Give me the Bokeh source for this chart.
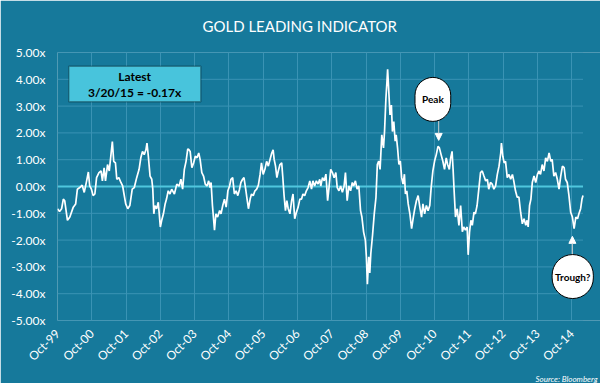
import numpy as np
from bokeh.plotting import figure
from bokeh.models import (Range1d, FixedTicker, PrintfTickFormatter,
                          BoxAnnotation, Label, Arrow, NormalHead, Title)
from bokeh.embed import file_html
from bokeh.resources import INLINE

# ---------------- data (decimal year, indicator value) ----------------
seg_1999_2003 = [
    (1999.75, -0.83), (1999.81, -0.93), (1999.87, -0.83), (1999.92, -0.47), (1999.96, -0.53),
    (2000.04, -1.26), (2000.11, -1.14), (2000.21, -0.77), (2000.28, -0.65), (2000.33, -0.10),
    (2000.40, -0.04), (2000.47, 0.05), (2000.53, -0.22), (2000.60, 0.21), (2000.65, 0.54),
    (2000.69, 0.02), (2000.74, -0.10), (2000.79, -0.34), (2000.84, -0.28), (2000.89, 0.33),
    (2000.96, 0.52), (2001.02, 0.58), (2001.06, 0.21), (2001.11, 0.70), (2001.15, 0.21),
    (2001.21, 0.82), (2001.26, 0.58), (2001.31, 1.19), (2001.35, 1.68), (2001.39, 0.94),
    (2001.44, 0.88), (2001.48, 0.27), (2001.54, 0.33), (2001.60, 0.15), (2001.65, 0.02),
    (2001.69, -0.28), (2001.74, -0.65), (2001.80, -0.83), (2001.86, -0.71), (2001.93, -0.10),
    (2001.99, -0.04), (2002.06, 0.33), (2002.13, 0.64), (2002.18, 1.07), (2002.23, 1.31),
    (2002.28, 1.19), (2002.33, 1.37), (2002.36, 1.62), (2002.40, 1.13), (2002.45, 0.39),
    (2002.50, 0.27), (2002.53, -0.10), (2002.56, -1.02), (2002.59, -0.71), (2002.64, -0.83),
    (2002.69, -0.59), (2002.75, -1.51), (2002.79, -1.26), (2002.84, -1.02), (2002.89, -0.65),
    (2002.93, -0.47), (2002.98, -0.16), (2003.03, -0.28), (2003.08, -0.10), (2003.16, -0.28),
    (2003.23, 0.09), (2003.30, 0.02), (2003.35, 0.27), (2003.40, -0.10), (2003.45, 0.64),
    (2003.50, 0.94), (2003.55, 1.40),
]
seg_2003_2007 = [
    (2003.58, 1.38), (2003.62, 1.31), (2003.67, 0.70), (2003.72, 0.88), (2003.77, 1.13),
    (2003.82, 1.07), (2003.87, 1.25), (2003.91, 1.01), (2003.96, 0.52), (2004.01, 0.39),
    (2004.06, 0.09), (2004.11, 0.02), (2004.16, 0.21), (2004.20, -0.04), (2004.23, 0.15),
    (2004.27, -0.71), (2004.33, -1.63), (2004.37, -1.02), (2004.42, -1.14), (2004.48, -0.90),
    (2004.52, -1.02), (2004.57, -0.71), (2004.62, -0.47), (2004.67, -0.77), (2004.72, -0.16),
    (2004.77, 0.02), (2004.81, 0.27), (2004.86, 0.33), (2004.91, -0.28), (2004.96, -0.16),
    (2005.01, -0.34), (2005.06, -0.10), (2005.10, 0.15), (2005.15, 0.27), (2005.19, 0.33),
    (2005.24, -0.10), (2005.28, -0.47), (2005.32, -0.83), (2005.37, -0.47), (2005.41, -0.28),
    (2005.46, -0.34), (2005.51, -0.16), (2005.56, -0.10), (2005.61, 0.05), (2005.66, 0.45),
    (2005.70, 0.88), (2005.75, 0.45), (2005.80, 0.64), (2005.85, 0.94), (2005.90, 0.76),
    (2005.95, 1.01), (2006.00, 1.25), (2006.04, 1.37), (2006.07, 1.01), (2006.11, 0.76),
    (2006.15, 0.33), (2006.19, 0.58), (2006.24, 0.82), (2006.29, 0.88), (2006.32, 0.39),
    (2006.36, -0.34), (2006.40, -0.90), (2006.44, -0.53), (2006.48, -0.83), (2006.53, -1.02),
    (2006.58, -0.53), (2006.62, -0.28), (2006.67, -1.20), (2006.72, -0.96), (2006.77, -0.77),
    (2006.82, -0.47), (2006.87, -0.47), (2006.91, -0.28), (2006.96, -0.34), (2007.01, -0.16),
    (2007.06, -0.04), (2007.11, 0.21), (2007.16, -0.10), (2007.20, 0.21), (2007.25, 0.02),
    (2007.30, 0.21), (2007.35, 0.09), (2007.40, 0.27),
]
seg_2007_2011 = [
    (2007.43, 0.02), (2007.48, 0.33), (2007.53, 0.21), (2007.58, 0.46), (2007.63, -0.53),
    (2007.67, -0.04), (2007.72, 0.64), (2007.77, 0.52), (2007.82, 0.33), (2007.87, 0.52),
    (2007.91, -0.04), (2007.96, -0.16), (2008.01, 0.02), (2008.06, -0.22), (2008.11, 0.02),
    (2008.15, 0.52), (2008.20, -0.53), (2008.25, 0.02), (2008.30, -0.16), (2008.35, 0.15),
    (2008.39, 0.02), (2008.44, 0.21), (2008.49, -0.10), (2008.54, 0.02), (2008.59, -0.90),
    (2008.63, -1.14), (2008.68, -1.70), (2008.73, -2.00), (2008.76, -2.62), (2008.79, -3.65),
    (2008.83, -2.62), (2008.86, -3.23), (2008.89, -2.50), (2008.94, -1.82), (2008.99, -1.02),
    (2009.04, -0.41), (2009.08, 0.82), (2009.12, 0.95), (2009.16, 0.64), (2009.21, 1.93),
    (2009.26, 1.44), (2009.29, 2.05), (2009.33, 3.28), (2009.36, 3.90), (2009.38, 4.37),
    (2009.41, 3.65), (2009.45, 2.67), (2009.49, 3.04), (2009.52, 2.05), (2009.56, 2.42),
    (2009.60, 1.69), (2009.63, 1.93), (2009.67, 1.44), (2009.71, 0.82), (2009.75, 0.95),
    (2009.79, 0.33), (2009.83, 0.09), (2009.87, 0.46), (2009.90, -0.28), (2009.94, -0.16),
    (2009.98, -0.65), (2010.03, -1.02), (2010.08, -1.57), (2010.13, -1.14), (2010.17, -0.84),
    (2010.22, -0.53), (2010.27, -0.34), (2010.32, -0.77), (2010.37, -1.14), (2010.41, -0.65),
    (2010.46, -1.02), (2010.51, -0.71), (2010.56, -0.90), (2010.61, -0.71), (2010.65, -0.04),
    (2010.70, 0.58), (2010.75, 0.95), (2010.80, 1.19), (2010.85, 1.50), (2010.89, 1.44),
    (2010.94, 1.19), (2010.99, 0.95), (2011.04, 0.64), (2011.09, 1.07), (2011.13, 0.82),
    (2011.18, 0.64),
]
seg_2011_2015 = [
    (2011.22, 1.07), (2011.26, 1.31), (2011.29, 0.64), (2011.32, -0.16), (2011.36, -1.14),
    (2011.41, -0.83), (2011.46, -1.45), (2011.51, -0.71), (2011.56, -1.69), (2011.60, -1.51),
    (2011.65, -1.63), (2011.70, -1.51), (2011.73, -2.55), (2011.77, -1.69), (2011.81, -1.26),
    (2011.85, -1.45), (2011.90, -0.96), (2011.94, -1.02), (2011.99, -0.71), (2012.04, -0.10),
    (2012.09, 0.52), (2012.14, 0.58), (2012.19, 0.39), (2012.24, 0.21), (2012.29, 0.27),
    (2012.33, -0.10), (2012.38, 0.15), (2012.43, 0.09), (2012.48, -0.10), (2012.53, 0.02),
    (2012.58, 0.45), (2012.63, 0.76), (2012.68, 1.25), (2012.70, 1.62), (2012.74, 1.13),
    (2012.78, 0.88), (2012.82, 0.94), (2012.87, 0.33), (2012.92, 0.45), (2012.97, 0.27),
    (2013.02, 0.45), (2013.06, 0.21), (2013.11, -0.16), (2013.16, -0.40), (2013.21, -0.40),
    (2013.26, -0.96), (2013.31, -1.39), (2013.36, -1.20), (2013.41, -1.45), (2013.45, -1.26),
    (2013.48, -1.51), (2013.52, -0.71), (2013.56, -0.47), (2013.60, 0.15), (2013.65, 0.39),
    (2013.70, 0.15), (2013.75, 0.45), (2013.80, 0.58), (2013.84, 0.45), (2013.89, 0.82),
    (2013.94, 0.58), (2013.99, 1.07), (2014.04, 0.94), (2014.09, 1.25), (2014.14, 0.94),
    (2014.18, 1.01), (2014.23, 0.39), (2014.28, 0.52), (2014.33, 0.27), (2014.38, -0.10),
    (2014.43, 0.39), (2014.48, 0.76), (2014.53, 0.70), (2014.57, 0.27), (2014.62, 0.15),
    (2014.67, -0.34), (2014.72, -0.96), (2014.77, -1.14), (2014.82, -1.57), (2014.87, -1.14),
    (2014.92, -1.20), (2014.96, -1.02), (2015.01, -0.83), (2015.05, -0.47), (2015.08, -0.34),
]

y_ticks = [-5, -4, -3, -2, -1, 0, 1, 2, 3, 4, 5]
x_ticks = [1999.75, 2000.75, 2001.75, 2002.75, 2003.75, 2004.75, 2005.75, 2006.75,
           2007.75, 2008.75, 2009.75, 2010.75, 2011.75, 2012.75, 2013.75, 2014.75]
x_tick_labels = ["Oct-99", "Oct-00", "Oct-01", "Oct-02", "Oct-03", "Oct-04", "Oct-05",
                 "Oct-06", "Oct-07", "Oct-08", "Oct-09", "Oct-10", "Oct-11", "Oct-12",
                 "Oct-13", "Oct-14"]

title_text = "GOLD LEADING INDICATOR"
latest_title = "Latest"
latest_text = "3/20/15 = -0.17x"
source_text = "Source: Bloomberg"

# ---------------- styling ----------------
BG = "#16799b"
GRID = "#3a93b4"
ZERO = "#4fc7de"
BOX = "#48c4dc"
FONT = "Lato"

points = seg_1999_2003 + seg_2003_2007 + seg_2007_2011 + seg_2011_2015
t = [a for a, b in points]
v = [b for a, b in points]
t_start, t_end = t[0], t[-1]

p = figure(width=600, height=383, output_backend="svg", toolbar_location=None, tools="",
           x_range=Range1d(1999.75, 2015.59), y_range=Range1d(-5, 5),
           min_border_left=57, min_border_right=0, min_border_top=52, min_border_bottom=60,
           background_fill_color=BG, border_fill_color=BG, outline_line_color=None)

p.title.text = title_text
p.title.align = "left"
p.title.vertical_align = "top"
p.title.offset = 145
p.title.standoff = 32
p.title.text_color = "white"
p.title.text_font = FONT
p.title.text_font_size = "15px"
p.title.text_font_style = "normal"

p.yaxis.ticker = FixedTicker(ticks=y_ticks)
p.yaxis.formatter = PrintfTickFormatter(format="%.2fx")
p.xaxis.ticker = FixedTicker(ticks=x_ticks)
p.xaxis.major_label_overrides = dict(zip(x_ticks, x_tick_labels))
p.xaxis.major_label_orientation = np.pi / 4
for ax in (p.xaxis, p.yaxis):
    ax.axis_line_color = None
    ax.major_tick_line_color = None
    ax.minor_tick_line_color = None
    ax.major_tick_out = 0
    ax.major_tick_in = 0
    ax.minor_tick_out = 0
    ax.major_label_text_color = "white"
    ax.major_label_text_font = FONT
    ax.major_label_text_font_size = "12px"
p.yaxis.major_label_standoff = 12
p.xaxis.major_label_standoff = 11
p.xaxis.major_label_text_line_height = 1.0

p.xgrid.grid_line_color = GRID
p.xgrid.grid_line_width = 1
p.ygrid.grid_line_color = None

# horizontal grid lines stop where the series ends
hg = [yv for yv in y_ticks if yv != 0]
p.segment(x0=[t_start] * len(hg), y0=hg, x1=[t_end] * len(hg), y1=hg,
          line_color=GRID, line_width=1)
p.segment(x0=[t_start], y0=[0], x1=[t_end], y1=[0], line_color=ZERO, line_width=2)

p.line(t, v, line_color="white", line_width=1.7)

# Latest box
p.add_layout(BoxAnnotation(left=2000.08, right=2003.93, bottom=3.16, top=4.49,
                           fill_color=BOX, fill_alpha=1, line_color="black", line_width=1.5))
p.add_layout(Label(x=2002.0, y=4.11, text=latest_title, text_align="center",
                   text_baseline="middle", text_font=FONT, text_font_size="12px",
                   text_font_style="bold", text_color="black"))
p.add_layout(Label(x=2002.0, y=3.49, text=latest_text, text_align="center",
                   text_baseline="middle", text_font=FONT, text_font_size="12px",
                   text_font_style="bold", text_color="black"))

# Peak callout
p.add_layout(Arrow(end=NormalHead(size=7, fill_color="white", line_color="white"),
                   x_start=2010.87, y_start=2.47, x_end=2010.87, y_end=1.72,
                   line_color="#d0d0d0", line_width=1))
p.add_layout(Label(x=2010.70, y=3.25, text="Peak", text_align="center",
                   text_baseline="middle", text_font=FONT, text_font_size="10px",
                   text_font_style="bold", text_color="black",
                   background_fill_color="white", border_line_color="black",
                   border_line_width=1,
                   padding=dict(left=7, right=7, top=16, bottom=16), border_radius=20))

# Trough callout
p.add_layout(Arrow(end=NormalHead(size=7, fill_color="white", line_color="white"),
                   x_start=2014.77, y_start=-2.55, x_end=2014.77, y_end=-1.86,
                   line_color="#d0d0d0", line_width=1))
p.add_layout(Label(x=2014.78, y=-3.36, text="Trough?", text_align="center",
                   text_baseline="middle", text_font=FONT, text_font_size="10px",
                   text_font_style="bold", text_color="black",
                   background_fill_color="white", border_line_color="black",
                   border_line_width=1,
                   padding=dict(left=3, right=3, top=16, bottom=16), border_radius=22))

src = Title(text=source_text, align="right", offset=3, standoff=0, text_color="white",
            text_font=FONT, text_font_size="8px", text_font_style="italic")
p.add_layout(src, "below")

open("out.html", "w").write(file_html(p, INLINE))
